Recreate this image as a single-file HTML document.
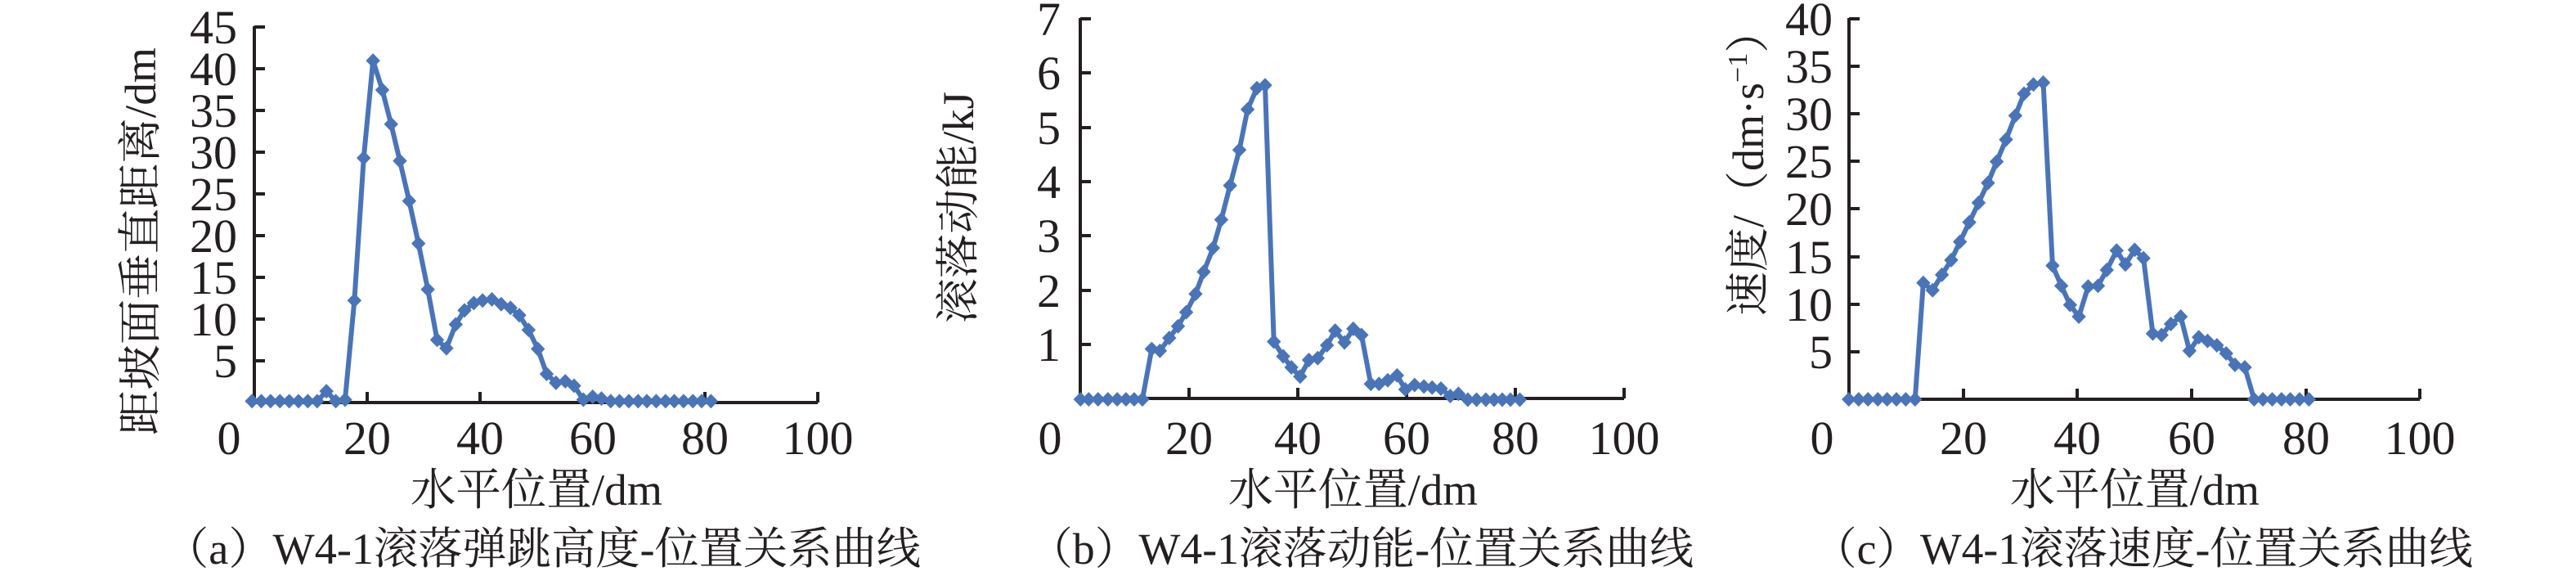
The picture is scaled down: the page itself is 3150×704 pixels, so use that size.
<!DOCTYPE html>
<html><head><meta charset="utf-8"><style>
html,body{margin:0;padding:0;background:#fff;}
svg{display:block;}
text{font-family:"Liberation Serif","Noto Serif CJK SC",serif;fill:#231f20;}
</style></head><body>
<svg width="3150" height="704" viewBox="0 0 3150 704" xmlns="http://www.w3.org/2000/svg">
<defs>
<marker id="d" markerUnits="userSpaceOnUse" markerWidth="30" markerHeight="40" refX="15" refY="20" viewBox="0 0 30 40" overflow="visible">
<path d="M15,0 L28,20 L15,40 L2,20Z" fill="#4a74b8"/>
</marker>
</defs>

<!-- Panel A -->
<g stroke="#231f20" stroke-width="4" fill="none">
<path d="M311,32 V492 H1000"/>
<path d="M311,33 H324 M311,84 H324 M311,135 H324 M311,186 H324 M311,237 H324 M311,288 H324 M311,339 H324 M311,390 H324 M311,441 H324"/>
<path d="M449,492 V479 M587,492 V479 M725,492 V479 M862,492 V479 M1000,492 V479"/>
</g>
<g font-size="58" text-anchor="end">
<text x="290" y="53">45</text><text x="290" y="104">40</text><text x="290" y="155">35</text><text x="290" y="206">30</text><text x="290" y="257">25</text><text x="290" y="308">20</text><text x="290" y="359">15</text><text x="290" y="410">10</text><text x="290" y="461">5</text>
</g>
<g font-size="58" text-anchor="middle">
<text x="280" y="555">0</text><text x="449" y="555">20</text><text x="587" y="555">40</text><text x="725" y="555">60</text><text x="862" y="555">80</text><text x="1000" y="555">100</text>
</g>
<text x="502" y="617" font-size="54" textLength="308" lengthAdjust="spacingAndGlyphs">水平位置/dm</text>
<text transform="translate(190,532) rotate(-90)" font-size="54" textLength="474" lengthAdjust="spacingAndGlyphs">距坡面垂直距离/dm</text>
<text x="201" y="689" font-size="54" textLength="925" lengthAdjust="spacingAndGlyphs">（a）W4-1滚落弹跳高度-位置关系曲线</text>
<g transform="scale(0.6698,0.449)">
<polyline fill="none" stroke="#4a74b8" stroke-width="6" vector-effect="non-scaling-stroke" stroke-linejoin="round" marker-start="url(#d)" marker-mid="url(#d)" marker-end="url(#d)"
points="460,1092 477,1092 494,1092 511,1092 528,1092 545,1092 562,1092 579,1092 596,1065 613,1092 630,1088 647,818 664,430 681,165 698,245 714,338 730,438 747,547 764,663 781,788 798,925 815,948 832,883 848,845 865,825 881,818 898,815 915,828 932,838 948,858 965,898 982,950 998,1018 1015,1042 1032,1038 1048,1050 1065,1088 1082,1080 1098,1085 1115,1092 1131,1092 1148,1092 1165,1092 1181,1092 1198,1092 1215,1092 1231,1092 1248,1092 1265,1092 1281,1092 1298,1092"/>
</g>

<!-- Panel B -->
<g stroke="#231f20" stroke-width="4" fill="none">
<path d="M1321,22 V487 H1986"/>
<path d="M1321,23 H1334 M1321,89 H1334 M1321,156 H1334 M1321,222 H1334 M1321,288 H1334 M1321,355 H1334 M1321,421 H1334"/>
<path d="M1454,487 V474 M1587,487 V474 M1720,487 V474 M1853,487 V474 M1986,487 V474"/>
</g>
<g font-size="58" text-anchor="end">
<text x="1297" y="43">7</text><text x="1297" y="109">6</text><text x="1297" y="176">5</text><text x="1297" y="242">4</text><text x="1297" y="308">3</text><text x="1297" y="375">2</text><text x="1297" y="441">1</text>
</g>
<g font-size="58" text-anchor="middle">
<text x="1284" y="555">0</text><text x="1454" y="555">20</text><text x="1587" y="555">40</text><text x="1720" y="555">60</text><text x="1853" y="555">80</text><text x="1986" y="555">100</text>
</g>
<text x="1502" y="617" font-size="54" textLength="305" lengthAdjust="spacingAndGlyphs">水平位置/dm</text>
<text transform="translate(1190,395) rotate(-90)" font-size="54" textLength="283" lengthAdjust="spacingAndGlyphs">滚落动能/kJ</text>
<text x="1258" y="689" font-size="54" textLength="813" lengthAdjust="spacingAndGlyphs">（b）W4-1滚落动能-位置关系曲线</text>
<g transform="translate(1050,0) scale(0.6698,0.449)">
<polyline fill="none" stroke="#4a74b8" stroke-width="6" vector-effect="non-scaling-stroke" stroke-linejoin="round" marker-start="url(#d)" marker-mid="url(#d)" marker-end="url(#d)"
points="405,1087 420,1087 437,1087 455,1087 472,1087 488,1087 503,1087 518,1087 535,950 550,955 567,920 583,888 598,850 615,800 630,740 647,675 662,598 678,505 695,408 710,298 727,240 742,232 758,930 775,970 790,1000 806,1025 822,980 838,975 855,940 870,900 887,932 903,895 918,912 935,1045 950,1045 966,1035 983,1022 998,1060 1015,1048 1032,1052 1047,1055 1063,1058 1080,1078 1095,1072 1112,1088 1128,1088 1145,1088 1160,1088 1175,1088 1190,1088 1207,1088"/>
</g>

<!-- Panel C -->
<g stroke="#231f20" stroke-width="4" fill="none">
<path d="M2261,22 V488 H2959"/>
<path d="M2261,23 H2274 M2261,81 H2274 M2261,139 H2274 M2261,197 H2274 M2261,255 H2274 M2261,314 H2274 M2261,372 H2274 M2261,430 H2274"/>
<path d="M2401,488 V475 M2540,488 V475 M2680,488 V475 M2820,488 V475 M2959,488 V475"/>
</g>
<g font-size="58" text-anchor="end">
<text x="2241" y="43">40</text><text x="2241" y="101">35</text><text x="2241" y="159">30</text><text x="2241" y="217">25</text><text x="2241" y="275">20</text><text x="2241" y="334">15</text><text x="2241" y="392">10</text><text x="2241" y="450">5</text>
</g>
<g font-size="58" text-anchor="middle">
<text x="2228" y="555">0</text><text x="2401" y="555">20</text><text x="2540" y="555">40</text><text x="2680" y="555">60</text><text x="2820" y="555">80</text><text x="2959" y="555">100</text>
</g>
<text x="2458" y="617" font-size="54" textLength="305" lengthAdjust="spacingAndGlyphs">水平位置/dm</text>
<text transform="translate(2156,386) rotate(-90)" font-size="54">速度/（dm·s<tspan dy="-20" font-size="34">−1</tspan><tspan dy="20">）</tspan></text>
<text x="2217" y="689" font-size="54" textLength="807" lengthAdjust="spacingAndGlyphs">（c）W4-1滚落速度-位置关系曲线</text>
<g transform="translate(2100,0) scale(0.6698,0.449)">
<polyline fill="none" stroke="#4a74b8" stroke-width="6" vector-effect="non-scaling-stroke" stroke-linejoin="round" marker-start="url(#d)" marker-mid="url(#d)" marker-end="url(#d)"
points="240,1087 258,1087 275,1087 293,1087 310,1087 327,1087 344,1087 361,1087 376,770 393,790 410,748 427,708 443,658 460,605 477,552 494,498 510,440 527,380 544,315 560,255 577,230 595,225 612,723 628,778 644,830 660,862 677,780 695,778 711,735 729,682 745,720 762,680 778,703 795,908 811,912 828,882 846,862 862,955 879,918 895,928 912,940 929,962 945,993 963,1000 980,1087 996,1087 1013,1087 1030,1087 1046,1087 1063,1087 1080,1087"/>
</g>
</svg>
</body></html>
